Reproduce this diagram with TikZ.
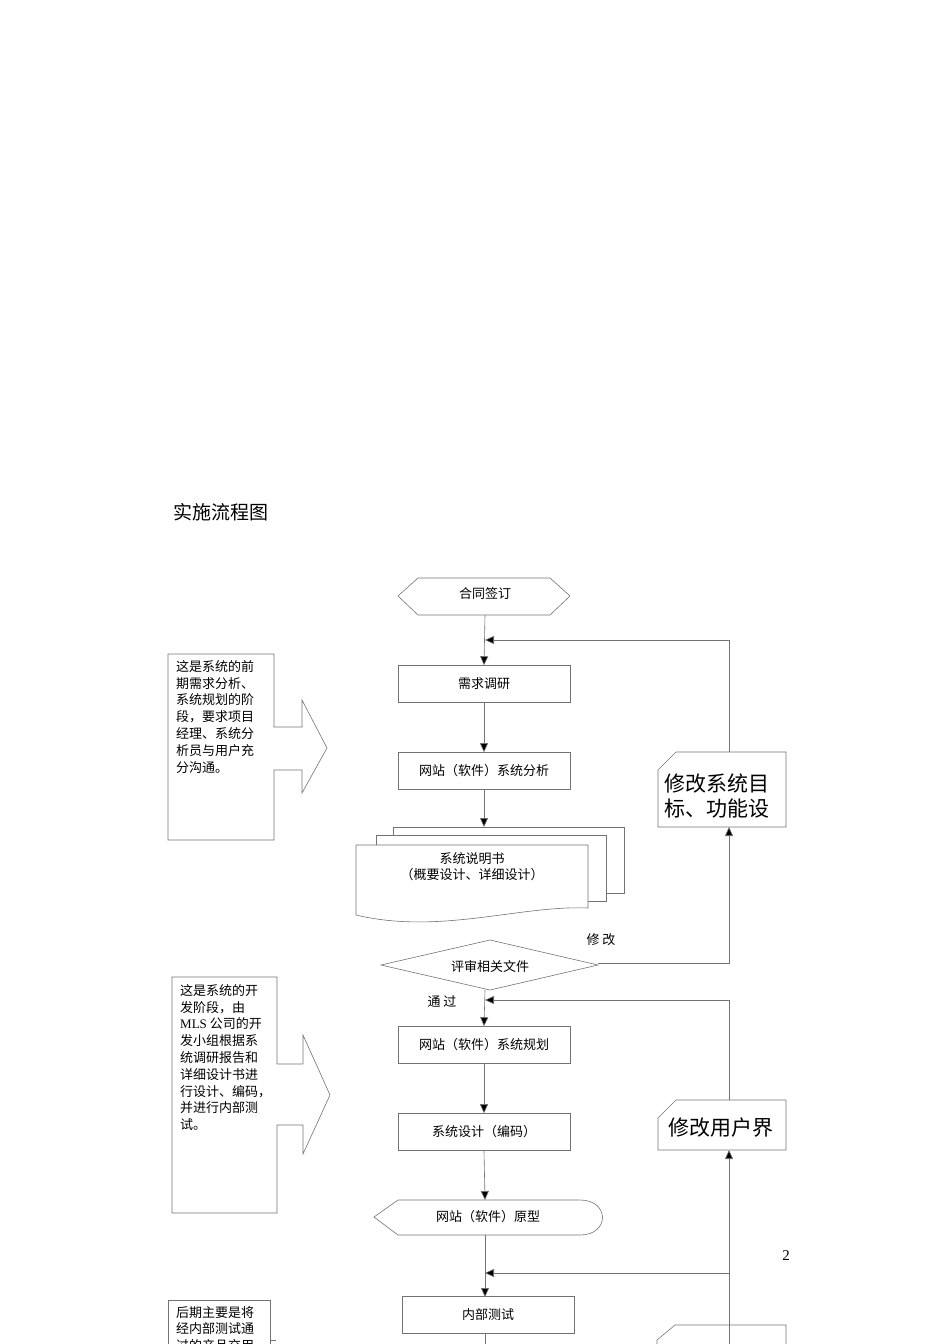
\documentclass[tikz,border=0pt]{standalone}
\usepackage{fontspec}
\setmainfont{Liberation Serif}
\newfontfamily\cjk{Noto Sans CJK SC}
\usetikzlibrary{arrows.meta}
\begin{document}
\begin{tikzpicture}[x=1pt,y=-1pt,
  ln/.style={draw=black!55,line width=0.6pt},
  arr/.style={ln,-{Triangle[length=9pt,width=8pt,fill=black]}},
  bx/.style={ln,rectangle,minimum width=172pt,minimum height=37pt,font=\cjk\fontsize{13}{15}\selectfont},
  lbl/.style={font=\cjk\fontsize{13}{16}\selectfont},
  side/.style={font=\cjk\fontsize{13}{16.8}\selectfont,align=left,anchor=north west,inner sep=0pt},
  big/.style={font=\cjk\fontsize{21}{25}\selectfont,align=left,anchor=north west,inner sep=0pt}]
\useasboundingbox (0,0) rectangle (950,1344);
\clip (0,0) rectangle (950,1344);
\node[anchor=west,inner sep=0pt,font=\cjk\fontsize{19}{22}\selectfont] (title) at (173,512) {实施流程图};
\node[font=\fontsize{15}{17}\selectfont] (pg) at (786,1256) {2};
% hexagon
\draw[ln] (398,596)--(418,578)--(550,578)--(570,596)--(550,615)--(418,615)--cycle;
\node[lbl] (hex) at (485,594) {合同签订};
\coordinate (hexb) at (485,615);
\node[bx] (a1) at (484,684) {需求调研};
\node[bx] (a2) at (484,771) {网站（软件）系统分析};
\draw[arr] (hexb)--(a1.north);
\draw[arr] (a1.south)--(a2.north);
% multidocument
\draw[ln,fill=white] (393,827)--(624,827)--(624,893)--(393,893)--cycle;
\draw[ln,fill=white] (376,835)--(606,835)--(606,901)--(376,901)--cycle;
\draw[ln,fill=white] (356,845)--(588,845)--(588,908) .. controls (520,905) and (440,935) .. (356,915)--cycle;
\node[lbl,align=center] (doc) at (472,867) {系统说明书\\（概要设计、详细设计）};
\coordinate (doct) at (484,827);
\draw[arr] (a2.south)--(doct);
% decision
\draw[ln] (381,965)--(490,940)--(598,965)--(490,990)--cycle;
\node[lbl] (dec) at (490,967) {评审相关文件};
\node[lbl] (xg) at (601,940) {修 改};
\node[lbl] (tg) at (442,1002) {通 过};
% modify box 1
\draw[ln] (676,752)--(786,752)--(786,827)--(658,827)--(658,770)--cycle;
\node[big] (m1) at (664,774) {修改系统目\\标、功能设};
\coordinate (m1b) at (729,827);
\coordinate (m1t) at (729,752);
\coordinate (d1) at (729,963);
\draw[arr] (598,963)--(d1)--(m1b);
\draw[arr] (m1t)--(729,640)--(485,640);
% second phase
\node[bx] (b1) at (484,1045) {网站（软件）系统规划};
\node[bx] (b2) at (484,1132) {系统设计（编码）};
\draw[arr] (485,990)--(b1.north);
\draw[arr] (b1.south)--(b2.north);
\draw[ln] (374,1217)--(398,1200)--(580,1200) .. controls (610,1200) and (610,1235) .. (580,1235) -- (398,1235)--cycle;
\node[lbl] (proto) at (488,1217) {网站（软件）原型};
\draw[arr] (b2.south)--(485,1200);
\node[bx] (c1) at (488,1315) {内部测试};
\draw[arr] (485,1235)--(485,1297);
\draw[ln] (485,1334)--(485,1344);
% modify box 2
\draw[ln] (676,1100)--(786,1100)--(786,1150)--(658,1150)--(658,1118)--cycle;
\node[big] (m2) at (668,1118) {修改用户界};
\draw[arr] (729,1100)--(729,1000)--(485,1000);
\draw[arr] (729,1344)--(729,1150);
\draw[arr] (729,1273)--(485,1273);
\draw[ln] (675,1325)--(786,1325)--(786,1350)--(657,1350)--(657,1340)--cycle;
% side callouts
\draw[ln] (274,727)--(274,654)--(168,654)--(168,840)--(274,840)--(274,770)--(302,770)--(302,793)--(327,748)--(302,700)--(302,727)--cycle;
\node[side] (s1) at (176,660) {这是系统的前\\期需求分析、\\系统规划的阶\\段，要求项目\\经理、系统分\\析员与用户充\\分沟通。};
\draw[ln] (277,1064)--(277,977)--(172,977)--(172,1213)--(277,1213)--(277,1125)--(303,1125)--(303,1154)--(330,1095)--(303,1035)--(303,1064)--cycle;
\node[side] (s2) at (180,984) {这是系统的开\\发阶段，由\\{\rmfamily MLS} 公司的开\\发小组根据系\\统调研报告和\\详细设计书进\\行设计、编码，\\并进行内部测\\试。};
\draw[ln] (168,1350)--(168,1300)--(270,1300)--(270,1350);
\draw[ln] (270,1340)--(276,1340);
\node[side] (s3) at (176,1306) {后期主要是将\\经内部测试通\\过的产品交用};
\end{tikzpicture}
\end{document}
